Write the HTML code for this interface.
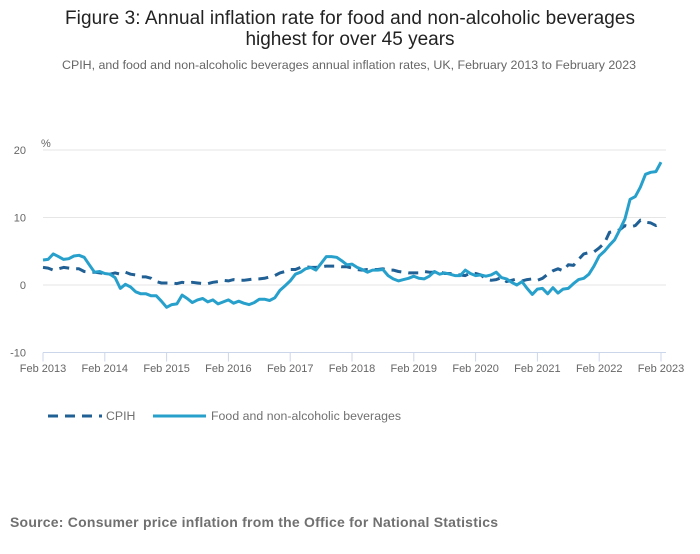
<!DOCTYPE html>
<html><head><meta charset="utf-8"><style>
body{margin:0;width:700px;height:549px;background:#fff;font-family:"Liberation Sans",sans-serif;overflow:hidden}
</style></head><body>
<svg id="c" width="700" height="549" xmlns="http://www.w3.org/2000/svg">
<text x="350" y="24" text-anchor="middle" font-size="19" fill="#222" textLength="570">Figure 3: Annual inflation rate for food and non-alcoholic beverages</text>
<text x="350" y="45" text-anchor="middle" font-size="19" fill="#222">highest for over 45 years</text>
<text x="349" y="69" text-anchor="middle" font-size="12.4" fill="#666" textLength="574">CPIH, and food and non-alcoholic beverages annual inflation rates, UK, February 2013 to February 2023</text>
<text x="41" y="147" font-size="11" fill="#666">%</text>
<g id="grid"></g><g id="series"></g>
<g>
<line x1="48" y1="416" x2="102" y2="416" stroke="#206095" stroke-width="3" stroke-dasharray="10,7"/>
<text x="106" y="420" font-size="12.3" fill="#707070">CPIH</text>
<line x1="153" y1="416" x2="206" y2="416" stroke="#27a0cc" stroke-width="3"/>
<text x="211" y="420" font-size="12.3" fill="#707070" textLength="190">Food and non-alcoholic beverages</text>
</g>
<text x="10" y="527" font-size="14" font-weight="bold" fill="#707070" textLength="488">Source: Consumer price inflation from the Office for National Statistics</text>
</svg>
<script>
const yTicks=[20,10,0,-10];
const xTickLabels=["Feb 2013","Feb 2014","Feb 2015","Feb 2016","Feb 2017","Feb 2018","Feb 2019","Feb 2020","Feb 2021","Feb 2022","Feb 2023"];
const food=[3.7,3.8,4.6,4.2,3.8,3.9,4.3,4.4,4.1,3.0,1.9,
2.0,1.7,1.6,1.1,-0.5,0.1,-0.3,-1.0,-1.3,-1.3,-1.6,-1.6,
-2.4,-3.3,-2.9,-2.8,-1.5,-2.0,-2.6,-2.2,-2.0,-2.5,-2.2,-2.8,
-2.5,-2.2,-2.7,-2.4,-2.7,-2.9,-2.6,-2.1,-2.1,-2.3,-1.9,-0.8,
-0.1,0.6,1.6,1.9,2.4,2.6,2.2,3.2,4.2,4.2,4.1,3.6,
3.0,3.1,2.6,2.3,1.9,2.2,2.2,2.3,1.4,0.9,0.6,0.8,
1.0,1.3,1.0,0.9,1.3,2.0,1.6,1.8,1.6,1.4,1.4,2.2,
1.7,1.4,1.5,1.3,1.5,1.9,1.1,0.9,0.4,0.0,0.5,-0.5,
-1.4,-0.6,-0.5,-1.3,-0.4,-1.2,-0.6,-0.5,0.2,0.8,1.0,1.6,
2.8,4.3,5.0,5.9,6.7,8.2,9.8,12.7,13.1,14.5,16.4,16.7,
16.8,18.2];
const cpih=[2.6,2.5,2.2,2.4,2.6,2.5,2.4,2.4,2.0,1.9,1.9,
1.8,1.7,1.6,1.8,1.6,1.9,1.6,1.5,1.2,1.2,1.0,0.5,
0.3,0.3,0.3,0.2,0.4,0.3,0.4,0.3,0.2,0.2,0.4,0.5,
0.7,0.6,0.8,0.7,0.7,0.8,0.9,0.9,1.0,1.2,1.4,1.8,
2.0,2.3,2.3,2.6,2.7,2.6,2.6,2.7,2.8,2.8,2.8,2.7,
2.7,2.5,2.3,2.2,2.3,2.3,2.3,2.4,2.2,2.2,2.0,1.9,
1.8,1.8,1.8,2.0,1.9,1.9,2.0,1.7,1.7,1.5,1.5,1.4,
1.8,1.7,1.5,0.9,0.7,0.8,1.1,0.5,0.7,0.9,0.6,0.8,
0.9,0.7,1.0,1.6,2.1,2.4,2.1,3.0,2.9,3.8,4.6,4.8,
4.9,5.5,6.2,7.8,7.9,8.2,8.8,8.6,8.8,9.6,9.3,9.2,
8.8,9.2];
const NS="http://www.w3.org/2000/svg";
const X0=43,X1=661,Y0=285,PU=6.75;
const xs=i=>X0+(X1-X0)*i/120;
const ys=v=>Y0-v*PU;
function mk(t,a,p){const e=document.createElementNS(NS,t);for(const k in a)e.setAttribute(k,a[k]);p.appendChild(e);return e;}
const g=document.getElementById('grid');
yTicks.forEach(v=>{
  if(v>-10){const l=mk('line',{x1:X0,x2:666,y1:ys(v),y2:ys(v),stroke:'#e6e6e6','stroke-width':1},g);
  
  }
  const t=mk('text',{x:26,y:ys(v)+4,'text-anchor':'end','font-size':11,fill:'#666'},g);
  t.textContent=v;
  
  
});
const ax=mk('line',{x1:X0,x2:666,y1:ys(-10),y2:ys(-10),stroke:'#ccd6eb','stroke-width':1},g);


xTickLabels.forEach((s,i)=>{
  const x=xs(i*12);
  const tk=mk('line',{x1:x,x2:x,y1:ys(-10),y2:ys(-10)+9,stroke:'#ccd6eb'},g);
  
  
  const t=mk('text',{x:x,y:372,'text-anchor':'middle','font-size':11,fill:'#666'},g);
  t.textContent=s;
  
  
});
const sg=document.getElementById('series');
function path(d){return d.map((v,i)=>(i?'L':'M')+xs(i).toFixed(1)+','+ys(v).toFixed(1)).join('');}
const pc=mk('path',{d:path(cpih),fill:'none',stroke:'#206095','stroke-width':3,'stroke-dasharray':'10,7','stroke-linejoin':'round'},sg);


const pf=mk('path',{d:path(food),fill:'none',stroke:'#27a0cc','stroke-width':3,'stroke-linejoin':'round'},sg);


</script>
</body></html>
